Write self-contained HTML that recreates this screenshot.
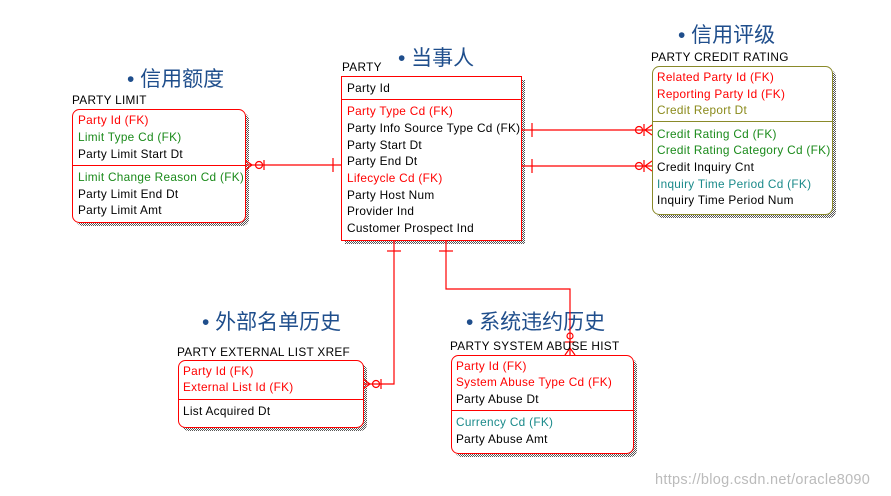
<!DOCTYPE html>
<html><head><meta charset="utf-8"><style>
html,body{margin:0;padding:0;background:#fff;width:891px;height:496px;overflow:hidden}
svg{display:block}
.t{font-family:"Liberation Sans",sans-serif;font-size:11.8px;letter-spacing:0.3px}
.cn{font-family:"Liberation Sans","Noto Sans CJK SC",sans-serif;font-size:21px;fill:#1f4e8c}
.r{fill:#f00}.g{fill:#1a8a1a}.k{fill:#000}.o{fill:#8a8a1a}.c{fill:#1a8a8a}
</style></head><body>
<svg width="891" height="496" viewBox="0 0 891 496">
<defs><pattern id="sh" width="2" height="2" patternUnits="userSpaceOnUse"><rect width="1" height="1" fill="#555"/><rect x="1" y="1" width="1" height="1" fill="#555"/></pattern></defs>
<g class="cn">
<text x="127" y="86">• 信用额度</text>
<text x="398" y="65">• 当事人</text>
<text x="678" y="42">• 信用评级</text>
<text x="202" y="329">• 外部名单历史</text>
<text x="466" y="329">• 系统违约历史</text>
</g>
<rect x="345" y="80" width="180" height="164" fill="url(#sh)"/>
<rect x="76" y="113" width="173" height="113" rx="7" fill="url(#sh)"/>
<rect x="656" y="70" width="180" height="148" rx="7" fill="url(#sh)"/>
<rect x="182" y="364" width="185" height="67" rx="7" fill="url(#sh)"/>
<rect x="455" y="359" width="182" height="98" rx="7" fill="url(#sh)"/>
<g stroke="#f00" stroke-width="1.2" fill="none">
<line x1="245" y1="165" x2="341" y2="165"/><line x1="333" y1="158" x2="333" y2="172"/>
<line x1="245" y1="160" x2="252" y2="165"/><line x1="245" y1="170" x2="252" y2="165"/><circle cx="259" cy="165" r="3.5"/><line x1="264" y1="160" x2="264" y2="170"/>
<line x1="521" y1="130" x2="652" y2="130"/><line x1="532" y1="123" x2="532" y2="137"/>
<line x1="521" y1="166" x2="652" y2="166"/><line x1="532" y1="159" x2="532" y2="173"/>
<circle cx="639" cy="130" r="3.5"/><line x1="644" y1="124" x2="644" y2="136"/><line x1="652" y1="125" x2="645" y2="130"/><line x1="652" y1="135" x2="645" y2="130"/>
<circle cx="639" cy="166" r="3.5"/><line x1="644" y1="160" x2="644" y2="172"/><line x1="652" y1="161" x2="645" y2="166"/><line x1="652" y1="171" x2="645" y2="166"/>
<polyline points="394,240 394,384 363,384"/><line x1="387" y1="251" x2="401" y2="251"/>
<line x1="363" y1="379" x2="370" y2="384"/><line x1="363" y1="389" x2="370" y2="384"/><circle cx="376" cy="384" r="3.5"/><line x1="381" y1="379" x2="381" y2="389"/>
<polyline points="446,240 446,289 570,289 570,355"/><line x1="439" y1="251" x2="453" y2="251"/>
<line x1="565" y1="342" x2="575" y2="342"/><circle cx="570" cy="336" r="3"/><line x1="565" y1="355" x2="570" y2="348"/><line x1="575" y1="355" x2="570" y2="348"/>
</g>
<text class="t k" x="342" y="71">PARTY</text>
<rect x="341.5" y="76.5" width="180" height="164" fill="#fff" stroke="#f00"/>
<line x1="341" y1="99.5" x2="521" y2="99.5" stroke="#f00"/>
<g class="t">
<text class="k" x="347" y="92">Party Id</text>
<text class="r" x="347" y="115">Party Type Cd (FK)</text>
<text class="k" x="347" y="132">Party Info Source Type Cd (FK)</text>
<text class="k" x="347" y="149">Party Start Dt</text>
<text class="k" x="347" y="165">Party End Dt</text>
<text class="r" x="347" y="182">Lifecycle Cd (FK)</text>
<text class="k" x="347" y="199">Party Host Num</text>
<text class="k" x="347" y="215">Provider Ind</text>
<text class="k" x="347" y="232">Customer Prospect Ind</text>
</g>
<text class="t k" x="72" y="104">PARTY LIMIT</text>
<rect x="72.5" y="109.5" width="173" height="113" rx="7" fill="#fff" stroke="#f00"/>
<line x1="72" y1="165.5" x2="245" y2="165.5" stroke="#f00"/>
<g class="t">
<text class="r" x="78" y="124">Party Id (FK)</text>
<text class="g" x="78" y="141">Limit Type Cd (FK)</text>
<text class="k" x="78" y="158">Party Limit Start Dt</text>
<text class="g" x="78" y="181">Limit Change Reason Cd (FK)</text>
<text class="k" x="78" y="198">Party Limit End Dt</text>
<text class="k" x="78" y="214">Party Limit Amt</text>
</g>
<text class="t k" x="651" y="61">PARTY CREDIT RATING</text>
<rect x="652.5" y="66.5" width="180" height="148" rx="7" fill="#fff" stroke="#8a8a2a"/>
<line x1="652" y1="121.5" x2="832" y2="121.5" stroke="#8a8a2a"/>
<g class="t">
<text class="r" x="657" y="81">Related Party Id (FK)</text>
<text class="r" x="657" y="98">Reporting Party Id (FK)</text>
<text class="o" x="657" y="114">Credit Report Dt</text>
<text class="g" x="657" y="138">Credit Rating Cd (FK)</text>
<text class="g" x="657" y="154">Credit Rating Category Cd (FK)</text>
<text class="k" x="657" y="171">Credit Inquiry Cnt</text>
<text class="c" x="657" y="188">Inquiry Time Period Cd (FK)</text>
<text class="k" x="657" y="204">Inquiry Time Period Num</text>
</g>
<text class="t k" x="177" y="356">PARTY EXTERNAL LIST XREF</text>
<rect x="178.5" y="360.5" width="185" height="67" rx="7" fill="#fff" stroke="#f00"/>
<line x1="178" y1="399.5" x2="363" y2="399.5" stroke="#f00"/>
<g class="t">
<text class="r" x="183" y="375">Party Id (FK)</text>
<text class="r" x="183" y="391">External List Id (FK)</text>
<text class="k" x="183" y="415">List Acquired Dt</text>
</g>
<text class="t k" x="450" y="350">PARTY SYSTEM ABUSE HIST</text>
<rect x="451.5" y="355.5" width="182" height="98" rx="7" fill="#fff" stroke="#f00"/>
<line x1="451" y1="410.5" x2="633" y2="410.5" stroke="#f00"/>
<g class="t">
<text class="r" x="456" y="370">Party Id (FK)</text>
<text class="r" x="456" y="386">System Abuse Type Cd (FK)</text>
<text class="k" x="456" y="403">Party Abuse Dt</text>
<text class="c" x="456" y="426">Currency Cd (FK)</text>
<text class="k" x="456" y="443">Party Abuse Amt</text>
</g>
<text x="655" y="484" style="font-family:'Liberation Sans',sans-serif;font-size:14.5px;letter-spacing:0.3px;fill:#bbb">https://blog.csdn.net/oracle8090</text>
</svg>
</body></html>
